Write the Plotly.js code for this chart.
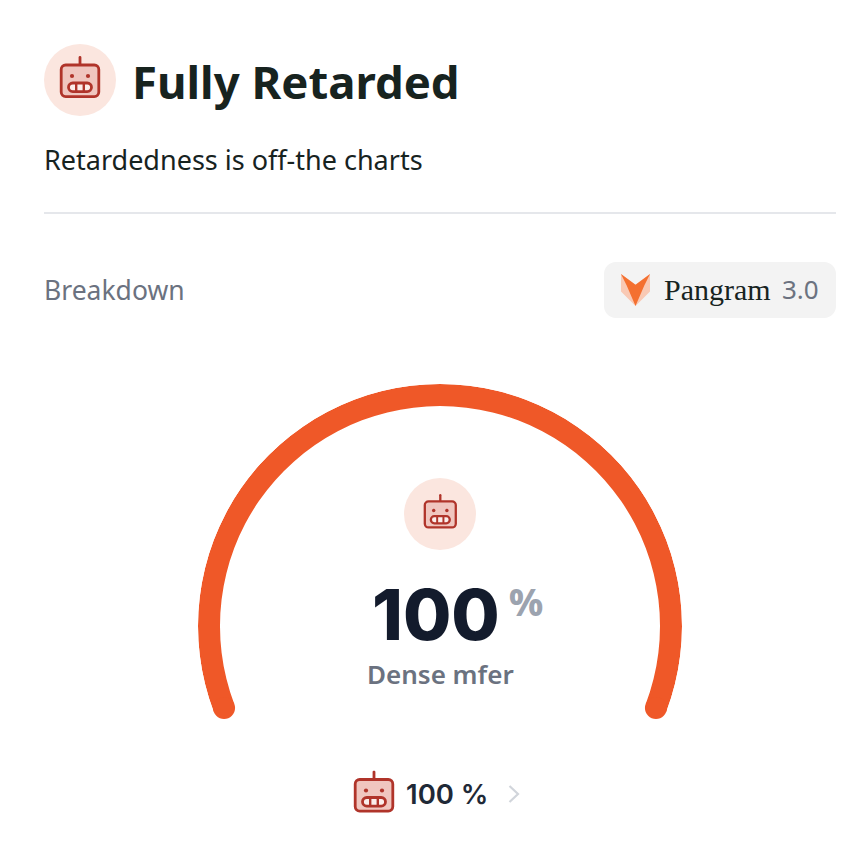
<!DOCTYPE html>
<html><head><meta charset="utf-8">
<script src="https://cdn.plot.ly/plotly-3.0.1.min.js"></script>
<style>html,body{margin:0;padding:0;background:#fff;overflow:hidden}#c{width:860px;height:844px}</style>
</head><body><div id="c"></div>
<script>
const scoreValue = [100];
const scoreUnit = "%";
const scoreLabel = "Dense mfer";
const footerLabel = "100 %";
const heading = "Fully Retarded";
const subheading = "Retardedness is off-the charts";
const sectionLabel = "Breakdown";
const brandName = "Pangram";
const brandVersion = "3.0";

const W = 860, H = 844;
const px = x => x / W, py = y => 1 - y / H;
const startAngle = 200.8, sweep = 221.6, outerR = 242, band = 22;
const thetaMid = scoreValue.map(v => startAngle - (v / 100) * sweep / 2);
const thetaWidth = scoreValue.map(v => (v / 100) * sweep);
const capTheta = [startAngle, startAngle - (scoreValue[0] / 100) * sweep];

const robot = 'data:image/svg+xml;utf8,' + encodeURIComponent(
 '<svg xmlns="http://www.w3.org/2000/svg" viewBox="0 0 42 44" width="84" height="88">' +
 '<path d="M21 1.5V9" stroke="#b0342a" stroke-width="2.8" stroke-linecap="round" fill="none"/>' +
 '<rect x="2.2" y="9" width="37.6" height="31.6" rx="4.5" fill="#f0c6bf" stroke="#b0342a" stroke-width="2.8"/>' +
 '<circle cx="13" cy="20" r="2.1" fill="#b0342a"/><circle cx="29" cy="20" r="2.1" fill="#b0342a"/>' +
 '<rect x="9.5" y="27" width="23" height="8.6" rx="4.3" fill="#fbeeeb" stroke="#b0342a" stroke-width="2.8"/>' +
 '<path d="M17.2 27V35.6M24.8 27V35.6" stroke="#b0342a" stroke-width="2.4"/></svg>');
const fox = 'data:image/svg+xml;utf8,' + encodeURIComponent(
 '<svg xmlns="http://www.w3.org/2000/svg" viewBox="0 0 30 33" width="60" height="66">' +
 '<path d="M0 0L15 11L30 0V18L15 33L0 18Z" fill="#f9c9b4"/>' +
 '<path d="M0 0L15 11L30 0L24 12L15 33L6 12Z" fill="#f47030"/></svg>');

function icon(src, x, y, w, h) {
  return {source: src, xref: 'paper', yref: 'paper', x: px(x), y: py(y),
    sizex: w / W, sizey: h / H, xanchor: 'left', yanchor: 'top', sizing: 'stretch', layer: 'above'};
}
function circle(cx, cy, r, color) {
  return {type: 'circle', xref: 'paper', yref: 'paper', x0: px(cx - r), x1: px(cx + r),
    y0: py(cy + r), y1: py(cy - r), fillcolor: color, line: {width: 0}, layer: 'below'};
}
function note(text, x, y, size, color, family, weight, anchor) {
  return {text, xref: 'paper', yref: 'paper', x: px(x), y: py(y), showarrow: false,
    xanchor: anchor || 'left', yanchor: 'middle',
    font: {size, color, family, weight: weight || 400}, borderpad: 0};
}
function rr(x0, y0, x1, y1, r) {
  const k = r * 0.45;
  const P = (a, b) => px(a) + ',' + py(b);
  return 'M' + P(x0 + r, y0) + 'L' + P(x1 - r, y0) +
    'C' + P(x1 - k, y0) + ' ' + P(x1, y0 + k) + ' ' + P(x1, y0 + r) +
    'L' + P(x1, y1 - r) + 'C' + P(x1, y1 - k) + ' ' + P(x1 - k, y1) + ' ' + P(x1 - r, y1) +
    'L' + P(x0 + r, y1) + 'C' + P(x0 + k, y1) + ' ' + P(x0, y1 - k) + ' ' + P(x0, y1 - r) +
    'L' + P(x0, y0 + r) + 'C' + P(x0, y0 + k) + ' ' + P(x0 + k, y0) + ' ' + P(x0 + r, y0) + 'Z';
}

const sans = '"Noto Sans", Inter, sans-serif';
const inter = 'Inter, "Noto Sans", sans-serif';
const traces = [
  {type: 'barpolar', r: [band], base: [outerR - band], theta: thetaMid, width: thetaWidth,
   marker: {color: '#ef5828', line: {width: 0}}, hoverinfo: 'skip', showlegend: false},
  {type: 'scatterpolar', mode: 'markers', r: capTheta.map(() => outerR - band / 2), theta: capTheta,
   marker: {size: band, color: '#ef5828', line: {width: 0}}, cliponaxis: false, hoverinfo: 'skip', showlegend: false}
];
const layout = {
  width: W, height: H, margin: {l: 0, r: 0, t: 0, b: 0}, paper_bgcolor: '#fff', showlegend: false,
  polar: {
    domain: {x: [px(198), px(682)], y: [py(712), py(384)]},
    sector: [startAngle - sweep, startAngle],
    bgcolor: 'rgba(0,0,0,0)',
    radialaxis: {visible: false, range: [0, outerR]},
    angularaxis: {visible: false, thetaunit: 'degrees', direction: 'counterclockwise', rotation: 0}
  },
  shapes: [
    circle(80, 80, 36, '#fbe6df'),
    circle(440, 514, 36, '#fbe6df'),
    {type: 'line', xref: 'paper', yref: 'paper', x0: px(44), x1: px(836), y0: py(213), y1: py(213),
     line: {color: '#e5e7eb', width: 2}},
    {type: 'path', xref: 'paper', yref: 'paper', path: rr(604, 262, 836, 318, 12), fillcolor: '#f3f3f3', line: {width: 0}, layer: 'below'},
    {type: 'path', xref: 'paper', yref: 'paper',
     path: 'M' + px(509.5) + ',' + py(786) + 'L' + px(518) + ',' + py(794) + 'L' + px(509.5) + ',' + py(802),
     line: {color: '#d1d5db', width: 2.2}}
  ],
  images: [
    icon(robot, 59, 56, 42, 44),
    icon(robot, 423, 494, 34.6, 36.2),
    icon(robot, 353, 770.5, 42, 44),
    icon(fox, 621, 274, 29, 32)
  ],
  annotations: [
    note(heading, 131, 81, 45.5, '#17231f', sans, 700),
    note(subheading, 43, 160, 27, '#17231f', sans, 400),
    note(sectionLabel, 43, 290, 26.5, '#6b7280', sans, 400),
    note(brandName, 662.5, 289, 30, '#17231f', '"Liberation Serif", serif', 400),
    note(brandVersion, 781, 289, 26, '#6b7280', sans, 400),
    note(String(scoreValue[0]), 435.5, 614, 70, '#131b2c', inter, 800, 'center'),
    note(scoreUnit, 508, 601, 37, '#9ca3af', sans, 800),
    note(scoreLabel, 440, 674, 26, '#6b7280', sans, 600, 'center'),
    note(footerLabel, 405, 794, 27.5, '#1f2937', inter, 600)
  ]
};
Plotly.newPlot('c', traces, layout, {displayModeBar: false, staticPlot: true});
</script></body></html>
